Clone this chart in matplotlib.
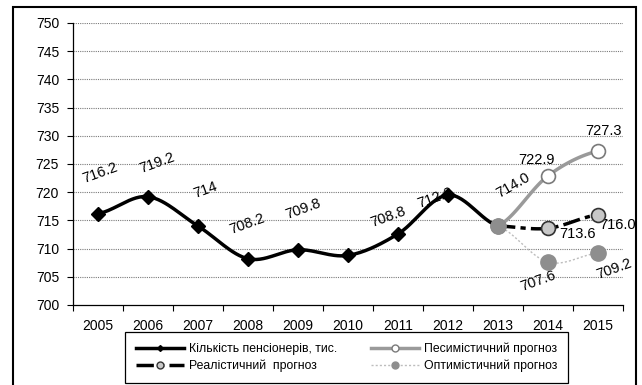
import matplotlib
matplotlib.use("Agg")
import matplotlib.pyplot as plt
import numpy as np
from matplotlib.patches import Rectangle

plt.rcParams['font.family'] = ['Liberation Sans', 'DejaVu Sans']

# фактичні дані
years = [2005, 2006, 2007, 2008, 2009, 2010, 2011, 2012, 2013]
pensioners = [716.2, 719.2, 714.0, 708.2, 709.8, 708.8, 712.6, 719.5, 714.0]
fact_labels = ["716.2", "719.2", "714", "708.2", "709.8", "708.8", "712.6", "", ""]

# прогнози
fc_years = [2013, 2014, 2015]
pessimistic = [714.0, 722.9, 727.3]
realistic = [714.0, 713.6, 716.0]
optimistic = [714.0, 707.6, 709.2]

all_years = list(range(2005, 2016))
yticks = list(range(700, 751, 5))

# зсуви підписів у пікселях
fact_offsets = [(2, 41), (9, 34), (7, 36), (-1, 35), (5, 41), (40, 38), (37, 36)]


def smooth(x, y, n=30):
    # згладжування як у Excel (сплайн Катмулла-Рома)
    x = np.asarray(x, float)
    y = np.asarray(y, float)
    px = np.concatenate([[2 * x[0] - x[1]], x, [2 * x[-1] - x[-2]]])
    py = np.concatenate([[y[0]], y, [y[-1]]])
    xs, ys = [], []
    for i in range(1, len(px) - 2):
        t = np.linspace(0, 1, n)
        for p, out in ((px, xs), (py, ys)):
            p0, p1, p2, p3 = p[i - 1], p[i], p[i + 1], p[i + 2]
            c1 = p1 + (p2 - p0) / 6
            c2 = p2 - (p3 - p1) / 6
            out.extend((1 - t) ** 3 * p1 + 3 * (1 - t) ** 2 * t * c1
                       + 3 * (1 - t) * t ** 2 * c2 + t ** 3 * p2)
    return np.array(xs), np.array(ys)


fig = plt.figure(figsize=(6.42, 3.85), dpi=100)
ax = fig.add_axes([0.1137, 0.2078, 0.8567, 0.7325])

# сітка
for v in yticks[1:]:
    ax.axhline(v, color='#7a7a7a', lw=0.8, ls=(0, (1, 1)), zorder=0)

# фактична лінія
sx, sy = smooth(years, pensioners)
ax.plot(sx, sy, color='black', lw=2.5, zorder=3)
ax.plot(years, pensioners, ls='none', marker='D', ms=7, color='black', zorder=4)

# песимістичний
sx, sy = smooth(fc_years, pessimistic)
ax.plot(sx, sy, color='#9a9a9a', lw=2.5, zorder=3)
ax.plot(fc_years, pessimistic, ls='none', marker='o', ms=10, mfc='white',
        mec='#7a7a7a', mew=1.2, zorder=5)

# реалістичний
sx, sy = smooth(fc_years, realistic)
ax.plot(sx, sy, color='black', lw=2.5, dashes=(5, 1.5, 1.5, 1.5), zorder=3)
ax.plot(fc_years, realistic, ls='none', marker='o', ms=10, mfc='#c8c8c8',
        mec='#333333', mew=1.2, zorder=5)

# оптимістичний
sx, sy = smooth(fc_years, optimistic)
ax.plot(sx, sy, color='#bdbdbd', lw=1, ls=(0, (1.5, 1.5)), zorder=3)
ax.plot(fc_years, optimistic, ls='none', marker='o', ms=11, mfc='#8e8e8e',
        mec='#8e8e8e', zorder=6)

# підписи значень
for x, v, s, (dx, dy) in zip(years, pensioners, fact_labels, fact_offsets):
    ax.annotate(s, (x, v), xytext=(dx, dy), textcoords='offset pixels',
                ha='center', va='center', rotation=20, fontsize=10.5)

ax.annotate("714.0", (2013, 714.0), xytext=(15, 41), textcoords='offset pixels',
            ha='center', va='center', rotation=30, fontsize=10.5)
ax.annotate("%.1f" % pessimistic[1], (2014, pessimistic[1]), xytext=(-11, 16),
            textcoords='offset pixels', ha='center', va='center', fontsize=10.5)
ax.annotate("%.1f" % pessimistic[2], (2015, pessimistic[2]), xytext=(6, 20),
            textcoords='offset pixels', ha='center', va='center', fontsize=10.5)
ax.annotate("%.1f" % realistic[1], (2014, realistic[1]), xytext=(30, -6),
            textcoords='offset pixels', ha='center', va='center', fontsize=10.5)
ax.annotate("%.1f" % realistic[2], (2015, realistic[2]), xytext=(20, -10),
            textcoords='offset pixels', ha='center', va='center', fontsize=10.5,
            annotation_clip=False)
ax.annotate("%.1f" % optimistic[1], (2014, optimistic[1]), xytext=(-10, -19),
            textcoords='offset pixels', ha='center', va='center', rotation=20,
            fontsize=10.5)
ax.annotate("%.1f" % optimistic[2], (2015, optimistic[2]), xytext=(16, -16),
            textcoords='offset pixels', ha='center', va='center', rotation=20,
            fontsize=10.5, annotation_clip=False)

# осі
ax.set_xlim(2004.5, 2015.5)
ax.set_ylim(700, 750)
ax.set_yticks(yticks)
ax.set_xticks(all_years)
ax.set_xticks(np.arange(2004.5, 2016, 1), minor=True)
ax.tick_params(axis='x', which='major', length=0, labelsize=10, pad=10)
ax.tick_params(axis='x', which='minor', length=4, width=0.8, direction='out')
ax.tick_params(axis='y', length=4, width=0.8, labelsize=10, pad=6)
for side in ('top', 'right'):
    ax.spines[side].set_visible(False)
for side in ('left', 'bottom'):
    ax.spines[side].set_linewidth(0.9)

# легенда
h1, = ax.plot([], [], color='black', lw=2.5, marker='D', ms=3)
h2, = ax.plot([], [], color='black', lw=2.5, dashes=(5, 1.5, 1.5, 1.5),
              marker='o', ms=5, mfc='#c8c8c8', mec='#333333')
h3, = ax.plot([], [], color='#9a9a9a', lw=2.5, marker='o', ms=5, mfc='white',
              mec='#7a7a7a')
h4, = ax.plot([], [], color='#bdbdbd', lw=1, ls=(0, (1.5, 1.5)), marker='o',
              ms=5, mfc='#8e8e8e', mec='#8e8e8e')
leg = fig.legend([h1, h2, h3, h4],
                 ["Кількість пенсіонерів, тис.", "Реалістичний  прогноз",
                  "Песимістичний прогноз", "Оптимістичний прогноз"],
                 ncol=2, loc='lower center', bbox_to_anchor=(0.54, 0.005),
                 fontsize=8.8, handlelength=3.9, handletextpad=0.4,
                 numpoints=1, fancybox=False, framealpha=1, edgecolor='black',
                 borderaxespad=0, borderpad=0.9, columnspacing=2.8,
                 labelspacing=0.35)
leg.get_frame().set_linewidth(0.9)

# рамка навколо діаграми
fig.patches.append(Rectangle((0.02, -0.05), 0.9707, 1.032, transform=fig.transFigure,
                             fill=False, edgecolor='black', lw=1.5))

fig.savefig("out.png", dpi=100)
